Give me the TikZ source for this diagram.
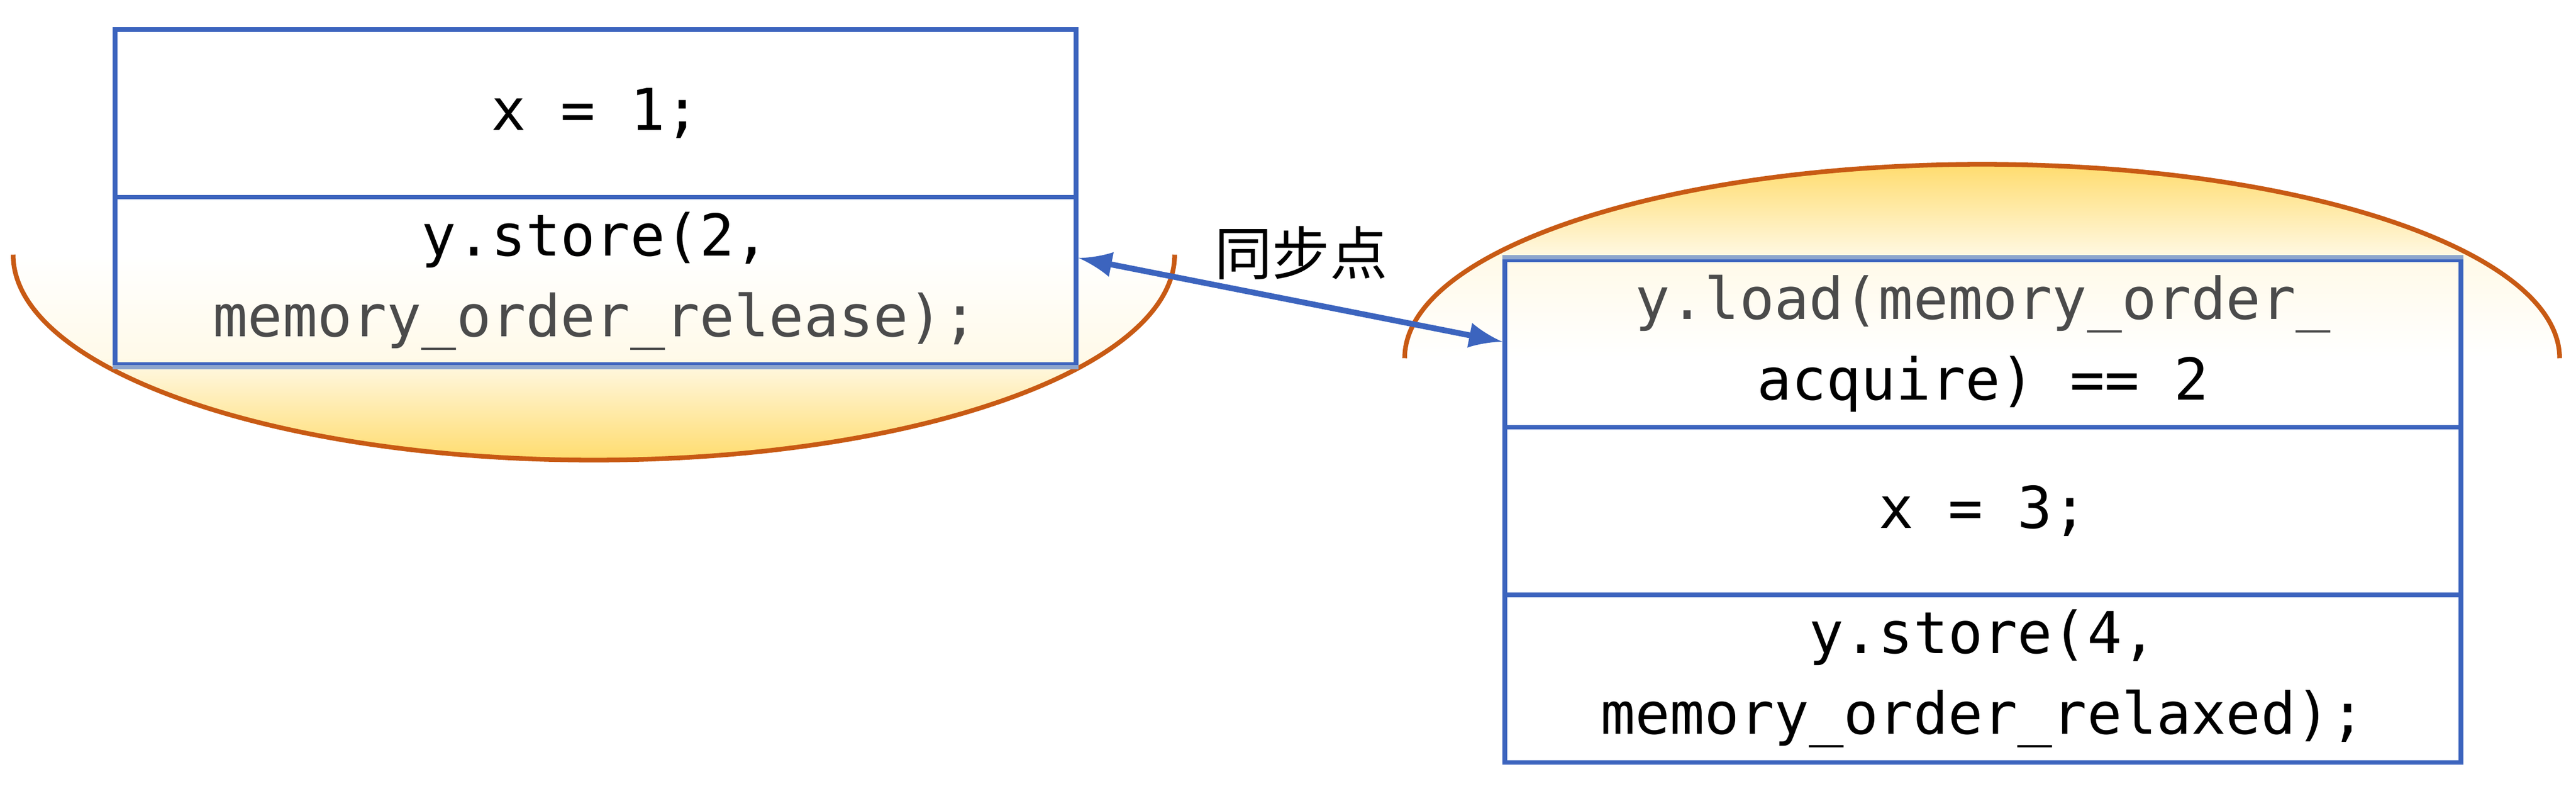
\documentclass[tikz,border=0pt]{standalone}
\usepackage{fontspec}
\setmonofont{DejaVu Sans Mono}
\newfontfamily\cjk{Noto Sans CJK SC}
\usetikzlibrary{positioning}
\definecolor{boxblue}{RGB}{60,100,190}
\definecolor{fadeblue}{RGB}{140,165,205}
\definecolor{rimorange}{RGB}{200,90,20}
\definecolor{sunyellow}{RGB}{255,220,110}
\definecolor{codegray}{RGB}{75,75,75}
\tikzset{
  cell/.style={rectangle, draw=boxblue, line width=0.8pt, minimum width=5.85cm, minimum height=1.02cm, inner sep=0pt, align=center, font=\ttfamily\fontsize{10}{14}\selectfont},
  rim/.style={rimorange, line width=0.8pt},
  sync/.style={<->, >=latex, draw=boxblue, line width=1pt}
}
\begin{document}
\begin{tikzpicture}
    \useasboundingbox (0,0) rectangle (15.68,4.80);
    % Left half ellipse
    \shade[top color=white, bottom color=sunyellow, middle color=white!85!sunyellow] (0.08,3.25) arc (180:360:3.535 and 1.25);
    \draw[rim] (0.08,3.25) arc (180:360:3.535 and 1.25);
    % Right half ellipse
    \shade[bottom color=white, top color=sunyellow, middle color=white!85!sunyellow] (8.55,2.62) arc (180:0:3.515 and 1.18);
    \draw[rim] (8.55,2.62) arc (180:0:3.515 and 1.18);
    % Left stack
    \node[cell, fill=white] (X1) at (3.625, 4.11) {x = 1;};
    \node[cell, below=-0.8pt of X1] (STORE2) {y.store(2,\\\textcolor{codegray}{memory\_order\_release);}};
    \draw[fadeblue, line width=0.8pt] (STORE2.south west) -- (STORE2.south east);
    % Right stack
    \node[cell, minimum width=5.82cm] (LOAD) at (12.07, 2.71) {\textcolor{codegray}{y.load(memory\_order\_}\\acquire) == 2};
    \draw[fadeblue, line width=0.8pt] (LOAD.north west) -- (LOAD.north east);
    \node[cell, fill=white, minimum width=5.82cm, below=-0.8pt of LOAD] (X3) {x = 3;};
    \node[cell, fill=white, minimum width=5.82cm, below=-0.8pt of X3] (STORE4) {y.store(4,\\memory\_order\_relaxed);};
    % Synchronisation
    \coordinate (A) at ([yshift=0.14cm]STORE2.east);
    \coordinate (B) at ([yshift=0.01cm]LOAD.west);
    \draw[sync] (A) -- (B);
    \node[font=\cjk\fontsize{10}{12}\selectfont] (SYNC) at (7.92, 3.26) {同步点};
\end{tikzpicture}
\end{document}
